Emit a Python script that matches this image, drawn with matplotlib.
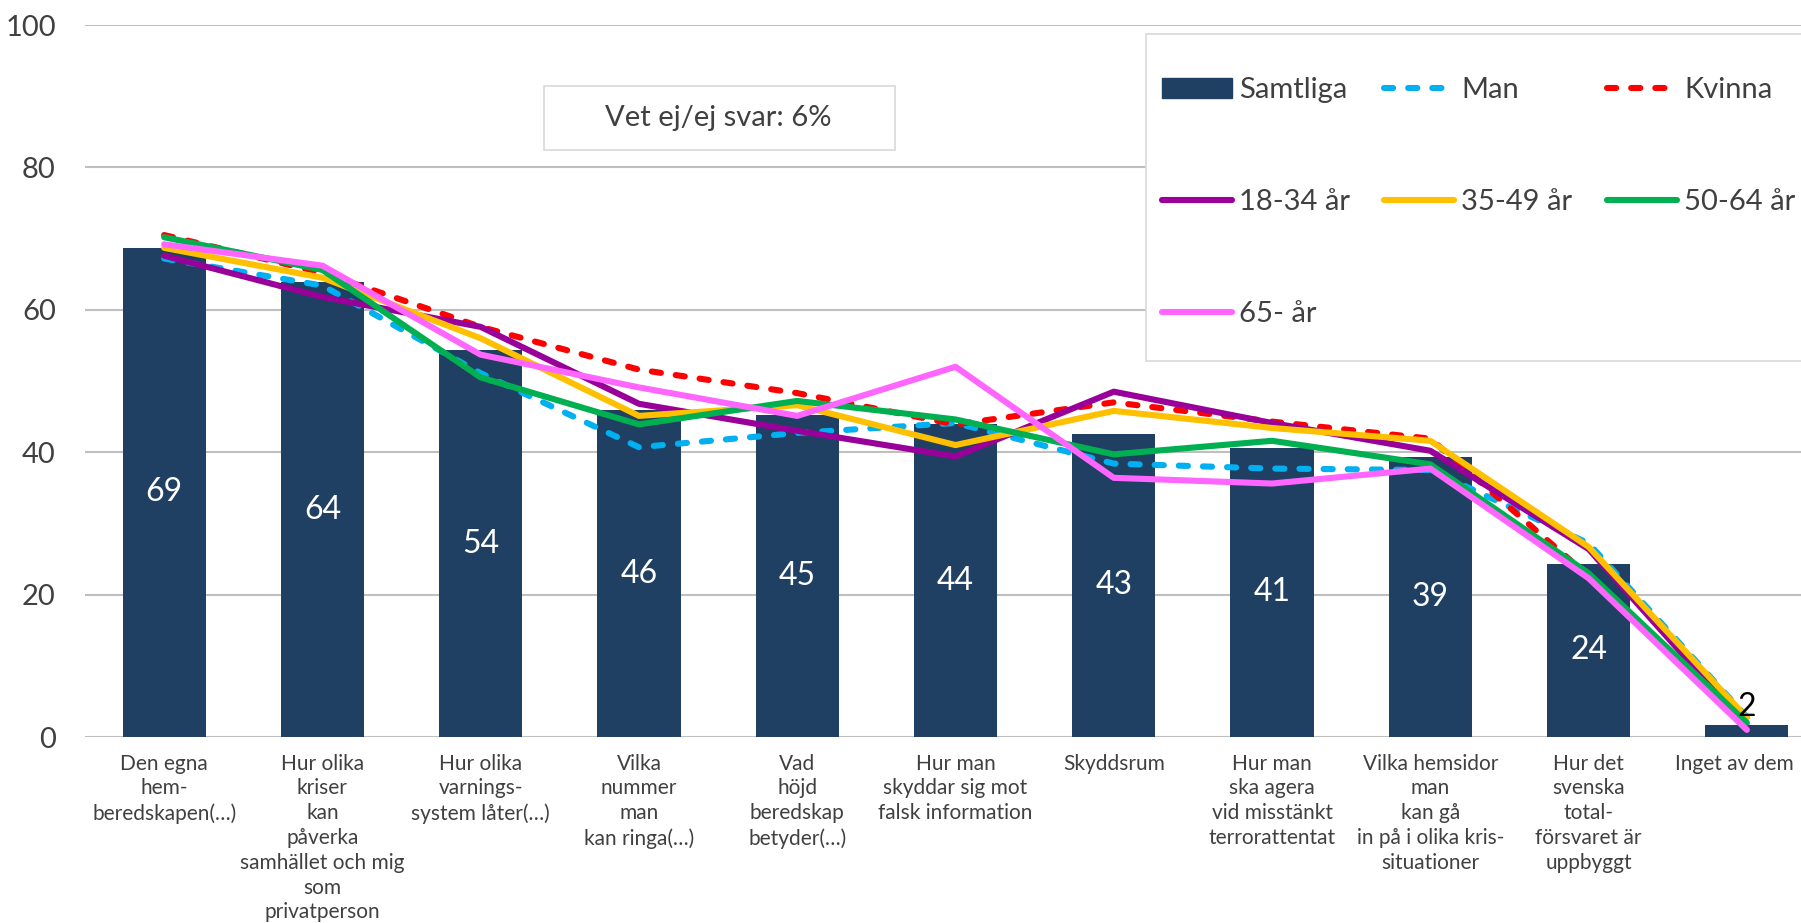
import matplotlib
matplotlib.use("Agg")
import matplotlib.pyplot as plt
import matplotlib.transforms as mtransforms
from matplotlib.patches import Rectangle, Patch

plt.rcParams['font.family'] = ['Lato', 'DejaVu Sans']

# data
kategorier = [
    "Den egna\nhem-\nberedskapen(…)",
    "Hur olika\nkriser\nkan\npåverka\nsamhället och mig\nsom\nprivatperson",
    "Hur olika\nvarnings-\nsystem låter(…)",
    "Vilka\nnummer\nman\nkan ringa(…)",
    "Vad\nhöjd\nberedskap\nbetyder(…)",
    "Hur man\nskyddar sig mot\nfalsk information",
    "Skyddsrum",
    "Hur man\nska agera\nvid misstänkt\nterrorattentat",
    "Vilka hemsidor\nman\nkan gå\nin på i olika kris-\nsituationer",
    "Hur det\nsvenska\ntotal-\nförsvaret är\nuppbyggt",
    "Inget av dem",
]
samtliga = [68.7, 63.9, 54.3, 45.9, 45.2, 43.9, 42.6, 40.6, 39.3, 24.3, 1.7]
samtliga_etikett = [69, 64, 54, 46, 45, 44, 43, 41, 39, 24, 2]
man = [67.2, 63.4, 51.1, 40.7, 42.7, 44.1, 38.4, 37.7, 37.5, 27.2, 2.8]
kvinna = [70.5, 65.2, 57.6, 51.6, 48.3, 43.9, 47.0, 44.3, 41.9, 22.6, 1.1]
ar_18_34 = [67.6, 61.8, 57.6, 46.8, 43.0, 39.4, 48.5, 44.1, 40.2, 26.4, 1.5]
ar_35_49 = [68.7, 64.5, 56.0, 45.1, 46.6, 41.0, 45.8, 43.4, 41.6, 26.7, 2.7]
ar_50_64 = [70.2, 65.6, 50.5, 43.9, 47.2, 44.6, 39.7, 41.6, 38.3, 23.0, 2.0]
ar_65 = [69.2, 66.2, 53.7, 49.1, 45.1, 52.0, 36.4, 35.6, 37.7, 22.3, 1.0]

W, H = 1801, 923
fig = plt.figure(figsize=(W / 100, H / 100), dpi=100)
ax = fig.add_axes([85 / W, (H - 737) / H, 1741 / W, 712 / H])

x = list(range(len(kategorier)))
textfarg = "#404040"

bars = ax.bar(x, samtliga, width=0.525, color="#1f4063", zorder=2)
for i, (b, v) in enumerate(zip(bars, samtliga_etikett)):
    if samtliga[i] > 10:
        ax.text(b.get_x() + b.get_width() / 2, samtliga[i] / 2, str(v),
                ha="center", va="center", color="white", fontsize=23, zorder=5)
    else:
        ax.annotate(str(v), (b.get_x() + b.get_width() / 2, samtliga[i]),
                    xytext=(0, 13), textcoords="offset points",
                    ha="center", va="center", color="black", fontsize=23, zorder=5)

lw = 4.4
streck = (0, (1.5, 2.45))
serier = [
    ("Man", man, "#00b0f0", streck),
    ("Kvinna", kvinna, "#ff0000", streck),
    ("18-34 år", ar_18_34, "#990099", "-"),
    ("35-49 år", ar_35_49, "#ffc000", "-"),
    ("50-64 år", ar_50_64, "#00b050", "-"),
    ("65- år", ar_65, "#ff66ff", "-"),
]
handtag = {}
for namn, vals, farg, ls in serier:
    ln, = ax.plot(x, vals, color=farg, lw=lw, linestyle=ls, zorder=3,
                  dash_capstyle="round", solid_capstyle="round",
                  solid_joinstyle="round")
    handtag[namn] = ln

ax.set_xlim(-0.5, 10.5)
ax.set_ylim(0, 100)
ax.set_yticks(range(0, 101, 20))
ax.grid(axis="y", color="#bfbfbf", lw=1.5, zorder=0)
ax.set_axisbelow(True)
for s in ax.spines.values():
    s.set_visible(False)
ax.tick_params(axis="both", length=0)
ax.tick_params(axis="y", labelsize=21, labelcolor=textfarg, pad=21)
ax.set_xticks(x)
ax.set_xticklabels(kategorier, fontsize=15, color=textfarg, linespacing=1.3)
ax.tick_params(axis="x", pad=12)
# sista etiketten lite till vänster så att den får plats
sista = ax.get_xticklabels()[-1]
sista.set_transform(sista.get_transform() +
                    mtransforms.ScaledTranslation(-12 / 100, 0, fig.dpi_scale_trans))

# ruta med vet ej
fig.patches.append(Rectangle((544 / W, 1 - 150 / H), 351 / W, 64 / H,
                             transform=fig.transFigure, facecolor="white",
                             edgecolor="#d9d9d9", lw=1.2, zorder=4))
fig.text(718 / W, 1 - 118 / H, "Vet ej/ej svar: 6%", ha="center", va="center",
         fontsize=21, color=textfarg, zorder=5)

# legend
fig.patches.append(Rectangle((1146 / W, 1 - 361 / H), 700 / W, 327 / H,
                             transform=fig.transFigure, facecolor="white",
                             edgecolor="#d9d9d9", lw=1.2, zorder=4))
kol1 = [Patch(color="#1f4063"), handtag["18-34 år"], handtag["65- år"]]
kol2 = [handtag["Man"], handtag["35-49 år"]]
kol3 = [handtag["Kvinna"], handtag["50-64 år"]]
namn1 = ["Samtliga", "18-34 år", "65- år"]
namn2 = ["Man", "35-49 år"]
namn3 = ["Kvinna", "50-64 år"]
for hs, ns, xpos in [(kol1, namn1, 1162), (kol2, namn2, 1384), (kol3, namn3, 1607)]:
    leg = fig.legend(hs, ns, loc="upper left", bbox_to_anchor=(xpos / W, 1 - 77 / H),
                     frameon=False, fontsize=21, handlelength=2.4, handletextpad=0.25,
                     labelspacing=2.95, borderpad=0, borderaxespad=0, labelcolor=textfarg)
    leg.set_zorder(6)

fig.savefig("out.png", dpi=100)
